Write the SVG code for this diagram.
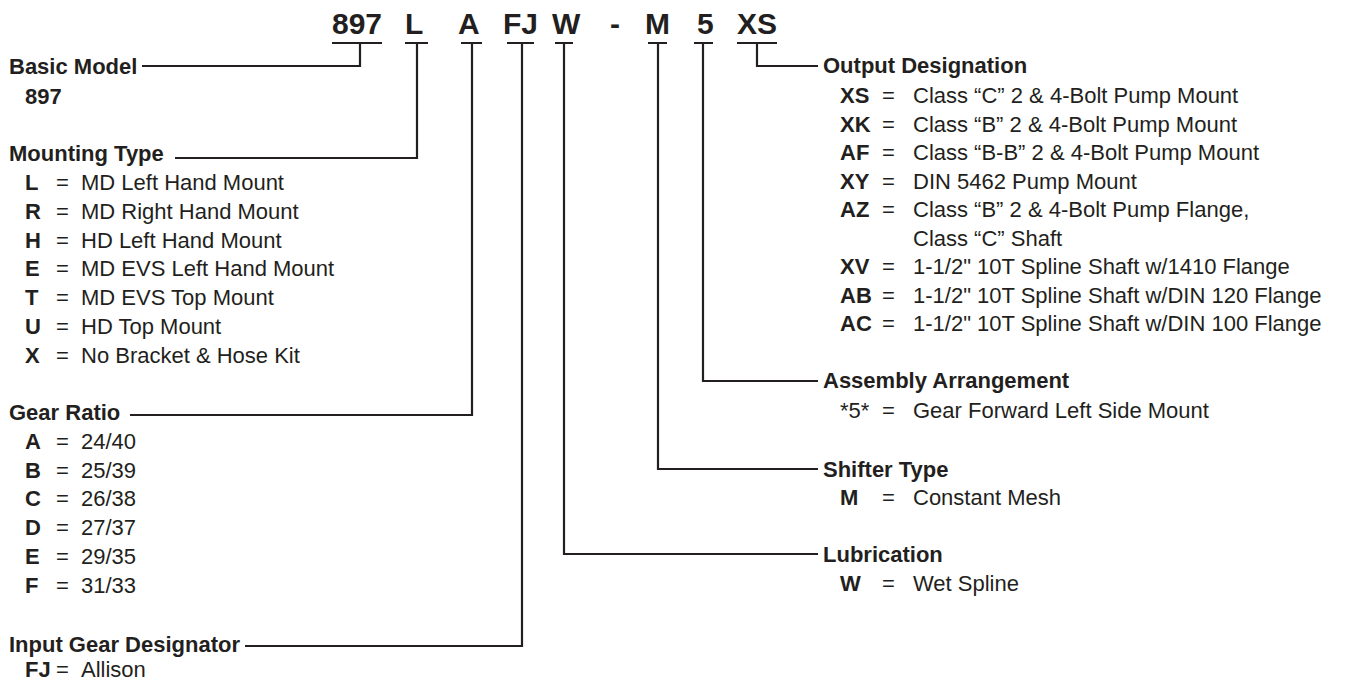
<svg xmlns="http://www.w3.org/2000/svg" width="1353" height="680" viewBox="0 0 1353 680">
<style>
text{font-family:"Liberation Sans",Arial,Helvetica,sans-serif;fill:#231f20;font-size:22px}
.b{font-weight:bold}
.code{font-weight:bold;font-size:30px}
.ln{fill:none;stroke:#231f20;stroke-width:2.2;stroke-linecap:butt;stroke-linejoin:miter}
</style>
<rect width="1353" height="680" fill="#fff"/>
<g id="code">
<text class="code" x="332" y="34">897</text>
<text class="code" x="405" y="34">L</text>
<text class="code" x="458" y="34">A</text>
<text class="code" x="503" y="34">FJ</text>
<text class="code" x="552" y="34">W</text>
<text class="code" x="610" y="34">-</text>
<text class="code" x="645" y="34">M</text>
<text class="code" x="697" y="34">5</text>
<text class="code" x="737" y="34">XS</text>
</g>
<g id="connectors">
<path class="ln" d="M332 43H382M360 43V66H142"/>
<path class="ln" d="M405 43H428M417 43V158H175"/>
<path class="ln" d="M461 43H482M472 43V415H130"/>
<path class="ln" d="M507 43H534M522 43V646H245"/>
<path class="ln" d="M555 43H573M564 43V554H818"/>
<path class="ln" d="M648 43H667M658 43V469H818"/>
<path class="ln" d="M694 43H713M703 43V381H818"/>
<path class="ln" d="M737 43H777M757 43V66H818"/>
</g>
<g id="basic-model">
<text class="b" x="9" y="74">Basic Model</text>
<text class="b" x="25" y="104">897</text>
</g>
<g id="mounting-type">
<text class="b" x="9" y="161">Mounting Type</text>
<text x="25" y="190"><tspan class="b">L</tspan><tspan x="56">=</tspan><tspan x="81">MD Left Hand Mount</tspan></text>
<text x="25" y="218.8"><tspan class="b">R</tspan><tspan x="56">=</tspan><tspan x="81">MD Right Hand Mount</tspan></text>
<text x="25" y="247.6"><tspan class="b">H</tspan><tspan x="56">=</tspan><tspan x="81">HD Left Hand Mount</tspan></text>
<text x="25" y="276.4"><tspan class="b">E</tspan><tspan x="56">=</tspan><tspan x="81">MD EVS Left Hand Mount</tspan></text>
<text x="25" y="305.2"><tspan class="b">T</tspan><tspan x="56">=</tspan><tspan x="81">MD EVS Top Mount</tspan></text>
<text x="25" y="334"><tspan class="b">U</tspan><tspan x="56">=</tspan><tspan x="81">HD Top Mount</tspan></text>
<text x="25" y="362.8"><tspan class="b">X</tspan><tspan x="56">=</tspan><tspan x="81">No Bracket &amp; Hose Kit</tspan></text>
</g>
<g id="gear-ratio">
<text class="b" x="9" y="420">Gear Ratio</text>
<text x="25" y="448.5"><tspan class="b">A</tspan><tspan x="56">=</tspan><tspan x="81">24/40</tspan></text>
<text x="25" y="477.5"><tspan class="b">B</tspan><tspan x="56">=</tspan><tspan x="81">25/39</tspan></text>
<text x="25" y="506"><tspan class="b">C</tspan><tspan x="56">=</tspan><tspan x="81">26/38</tspan></text>
<text x="25" y="535"><tspan class="b">D</tspan><tspan x="56">=</tspan><tspan x="81">27/37</tspan></text>
<text x="25" y="564"><tspan class="b">E</tspan><tspan x="56">=</tspan><tspan x="81">29/35</tspan></text>
<text x="25" y="593"><tspan class="b">F</tspan><tspan x="56">=</tspan><tspan x="81">31/33</tspan></text>
</g>
<g id="input-gear">
<text class="b" x="9" y="652">Input Gear Designator</text>
<text x="25" y="677"><tspan class="b">FJ</tspan><tspan x="56">=</tspan><tspan x="81">Allison</tspan></text>
</g>
<g id="output-designation">
<text class="b" x="823" y="73">Output Designation</text>
<text x="840" y="103"><tspan class="b">XS</tspan><tspan x="882">=</tspan><tspan x="913">Class “C” 2 &amp; 4-Bolt Pump Mount</tspan></text>
<text x="840" y="132"><tspan class="b">XK</tspan><tspan x="882">=</tspan><tspan x="913">Class “B” 2 &amp; 4-Bolt Pump Mount</tspan></text>
<text x="840" y="160"><tspan class="b">AF</tspan><tspan x="882">=</tspan><tspan x="913">Class “B-B” 2 &amp; 4-Bolt Pump Mount</tspan></text>
<text x="840" y="189"><tspan class="b">XY</tspan><tspan x="882">=</tspan><tspan x="913">DIN 5462 Pump Mount</tspan></text>
<text x="840" y="217"><tspan class="b">AZ</tspan><tspan x="882">=</tspan><tspan x="913">Class “B” 2 &amp; 4-Bolt Pump Flange,</tspan></text>
<text x="913" y="246">Class “C” Shaft</text>
<text x="840" y="274"><tspan class="b">XV</tspan><tspan x="882">=</tspan><tspan x="913">1-1/2" 10T Spline Shaft w/1410 Flange</tspan></text>
<text x="840" y="303"><tspan class="b">AB</tspan><tspan x="882">=</tspan><tspan x="913">1-1/2" 10T Spline Shaft w/DIN 120 Flange</tspan></text>
<text x="840" y="331"><tspan class="b">AC</tspan><tspan x="882">=</tspan><tspan x="913">1-1/2" 10T Spline Shaft w/DIN 100 Flange</tspan></text>
</g>
<g id="assembly-arrangement">
<text class="b" x="823" y="388">Assembly Arrangement</text>
<text x="840" y="418"><tspan>*5*</tspan><tspan x="882">=</tspan><tspan x="913">Gear Forward Left Side Mount</tspan></text>
</g>
<g id="shifter-type">
<text class="b" x="823" y="477">Shifter Type</text>
<text x="840" y="505"><tspan class="b">M</tspan><tspan x="882">=</tspan><tspan x="913">Constant Mesh</tspan></text>
</g>
<g id="lubrication">
<text class="b" x="823" y="562">Lubrication</text>
<text x="840" y="591"><tspan class="b">W</tspan><tspan x="882">=</tspan><tspan x="913">Wet Spline</tspan></text>
</g>
</svg>
